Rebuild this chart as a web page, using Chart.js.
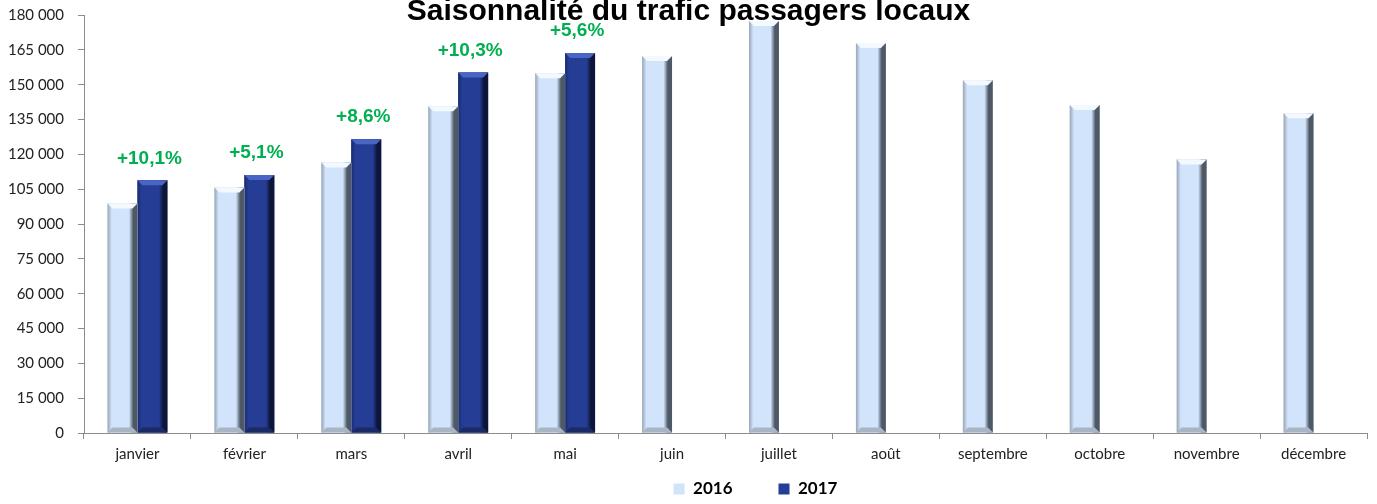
<!DOCTYPE html>
<html>
<head>
<meta charset="utf-8">
<script src="https://cdn.jsdelivr.net/npm/chart.js@4.4.1/dist/chart.umd.min.js"></script>
<style>
  html, body { margin: 0; padding: 0; background: #ffffff; }
  #wrap { position: relative; width: 1377px; height: 504px; overflow: hidden; }
  #title { position: absolute; left: 0; width: 1377px; top: -7px; text-align: center; line-height: 30px;
           font: bold 30px "Liberation Sans", Arial, sans-serif; color: #000; z-index: 2; }
  canvas { position: absolute; left: 0; top: 0; }
</style>
</head>
<body>
<div id="wrap">
  <div id="title">Saisonnalité du trafic passagers locaux</div>
  <canvas id="c" width="1377" height="504"></canvas>
</div>
<script>
const categories = ["janvier", "février", "mars", "avril", "mai", "juin", "juillet", "août", "septembre", "octobre", "novembre", "décembre"];
const seriesNames = ["2016", "2017"];
const values2016 = [98800, 105700, 116500, 140700, 154900, 162300, 177400, 167900, 151900, 141200, 117800, 137700];
const values2017 = [108800, 111100, 126500, 155200, 163600, null, null, null, null, null, null, null];
const growthLabels = ["+10,1%", "+5,1%", "+8,6%", "+10,3%", "+5,6%"];
const yTicks = [0, 15000, 30000, 45000, 60000, 75000, 90000, 105000, 120000, 135000, 150000, 165000, 180000];

function fmt(v) {
  return String(v).replace(/\B(?=(\d{3})+(?!\d))/g, " ");
}

const palettes = [
  { base: "#d1e4fb", edgeL: "#97a4b3", edgeR: "#4e5866", top: "#f4f9ff", bottom: "#a9b5c4" },
  { base: "#253d95", edgeL: "#1a2c6e", edgeR: "#0d1538", top: "#4a66c4", bottom: "#1a2a66" }
];

const bevelPlugin = {
  id: "bevel",
  afterDatasetDraw(chart, args) {
    const meta = args.meta;
    const pal = palettes[args.index];
    const ctx = chart.ctx;
    ctx.save();
    meta.data.forEach((el, i) => {
      const v = chart.data.datasets[args.index].data[i];
      if (v == null) return;
      const p = el.getProps(["x", "y", "base", "width"], true);
      const l = p.x - p.width / 2, r = p.x + p.width / 2, t = p.y, b = p.base;
      const g = ctx.createLinearGradient(l, 0, r, 0);
      g.addColorStop(0, pal.edgeL);
      g.addColorStop(0.14, pal.base);
      g.addColorStop(0.72, pal.base);
      g.addColorStop(0.86, pal.edgeR);
      g.addColorStop(1, pal.edgeR);
      ctx.fillStyle = g;
      ctx.fillRect(l, t, r - l, b - t);
      const bv = Math.min(5, (b - t) / 2);
      ctx.fillStyle = pal.base;
      ctx.fillRect(l + 5, t + bv, (r - l) * 0.68 - 5, b - t - 2 * bv);
      ctx.beginPath();
      ctx.moveTo(l, t); ctx.lineTo(r, t); ctx.lineTo(r - 5, t + bv); ctx.lineTo(l + 5, t + bv); ctx.closePath();
      ctx.fillStyle = pal.top; ctx.fill();
      ctx.beginPath();
      ctx.moveTo(l, b); ctx.lineTo(r, b); ctx.lineTo(r - 5, b - bv); ctx.lineTo(l + 5, b - bv); ctx.closePath();
      ctx.fillStyle = pal.bottom; ctx.fill();
    });
    ctx.restore();
  },
  afterDraw(chart) {
    const meta = chart.getDatasetMeta(1);
    const ctx = chart.ctx;
    ctx.save();
    ctx.fillStyle = "#00b050";
    ctx.font = "bold 19px 'Liberation Sans', Arial, sans-serif";
    ctx.textAlign = "center";
    ctx.textBaseline = "middle";
    growthLabels.forEach((txt, i) => {
      const el = meta.data[i];
      if (!el) return;
      ctx.fillText(txt, el.x - 3, el.y - 22);
    });
    ctx.restore();
  },
  afterLayout(chart) {
    const lg = chart.legend;
    if (lg) {
      const h = lg.bottom - lg.top;
      lg.left += 72; lg.right += 72;
      lg.top = 434.5; lg.bottom = 434.5 + h;
    }
  }
};

new Chart(document.getElementById("c"), {
  type: "bar",
  data: {
    labels: categories,
    datasets: [
      { label: seriesNames[0], data: values2016, backgroundColor: palettes[0].base, borderWidth: 0 },
      { label: seriesNames[1], data: values2017, backgroundColor: palettes[1].base, borderWidth: 0 }
    ]
  },
  options: {
    responsive: false,
    animation: false,
    layout: { padding: { top: 15, right: 10, left: 0, bottom: -38 } },
    datasets: { bar: { categoryPercentage: 0.56, barPercentage: 1.0 } },
    plugins: {
      tooltip: { enabled: false },
      title: { display: false },
      legend: {
        position: "bottom",
        labels: {
          boxWidth: 11, boxHeight: 11, padding: 46, color: "#000",
          font: { family: "Lato, 'Liberation Sans', sans-serif", size: 17, weight: "bold" }
        }
      }
    },
    scales: {
      x: {
        offset: true,
        grid: { display: true, drawOnChartArea: false, offset: true, tickLength: 6, color: "#8c8c8c" },
        border: { color: "#8c8c8c" },
        ticks: { color: "#222", padding: 6, font: { family: "Lato, 'Liberation Sans', sans-serif", size: 15 } }
      },
      y: {
        min: 0, max: 180000,
        afterBuildTicks(scale) { scale.ticks = yTicks.map(v => ({ value: v })); },
        afterFit(scale) { scale.width = 84; scale.paddingTop = 7; scale.paddingBottom = 7; },
        grid: { display: true, drawOnChartArea: false, tickLength: 6, color: "#8c8c8c" },
        border: { color: "#8c8c8c" },
        ticks: { color: "#222", padding: 14, font: { family: "Lato, 'Liberation Sans', sans-serif", size: 15 },
                 callback: (v) => fmt(v) }
      }
    }
  },
  plugins: [bevelPlugin]
});
</script>
</body>
</html>
